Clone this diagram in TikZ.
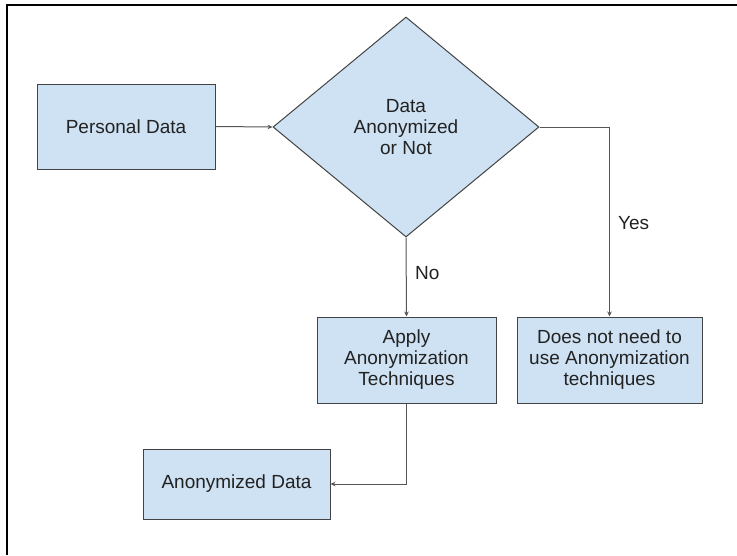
\documentclass[tikz,border=0pt]{standalone}
\usepackage{fontspec}
\setmainfont{Liberation Sans}
\usetikzlibrary{shapes.geometric,arrows.meta}
\definecolor{boxfill}{HTML}{CFE2F3}
\definecolor{boxline}{HTML}{434343}
\definecolor{txt}{HTML}{222222}
\definecolor{conn}{HTML}{555555}
\begin{document}
\begin{tikzpicture}[x=1pt,y=-1pt,
  every node/.style={font=\fontsize{19}{21}\selectfont, text=txt},
  procbox/.style={draw=boxline, fill=boxfill, line width=1pt, rectangle, inner sep=0pt, align=center},
  decbox/.style={draw=boxline, fill=boxfill, line width=1pt, diamond, inner sep=0pt, align=center,
     minimum width=266pt, minimum height=220pt},
  conline/.style={draw=conn, line width=1pt},
  conarrow/.style={conline, -{Stealth[length=5pt,width=4.5pt]}},
  lbl/.style={inner sep=0pt, anchor=west}]
\useasboundingbox (0,0) rectangle (737,555);
\draw[line width=2pt, black] (7,555) -- (7,5) -- (737,5);

\node[procbox, minimum width=178pt, minimum height=85pt] (pd) at (126,126.5) {Personal Data};
\node[decbox] (dec) at (406,127) {Data\\Anonymized\\or Not};
\node[procbox, minimum width=179pt, minimum height=86pt] (apply) at (406.5,360) {Apply\\Anonymization\\Techniques};
\node[procbox, minimum width=185pt, minimum height=86pt] (dnn) at (609.5,360) {Does not need to\\use Anonymization\\techniques};
\node[procbox, minimum width=187pt, minimum height=70pt] (anon) at (236.5,484) {Anonymized Data};

\draw[conarrow] (pd.east) -- (dec.west);
\draw[conarrow] (dec.east) -| (dnn.north);
\draw[conarrow] (dec.south) -- (apply.north);
\draw[conarrow] (apply.south) |- (anon.east);

\node[lbl] (no) at (415,273) {No};
\node[lbl] (yes) at (618,223) {Yes};
\end{tikzpicture}
\end{document}
